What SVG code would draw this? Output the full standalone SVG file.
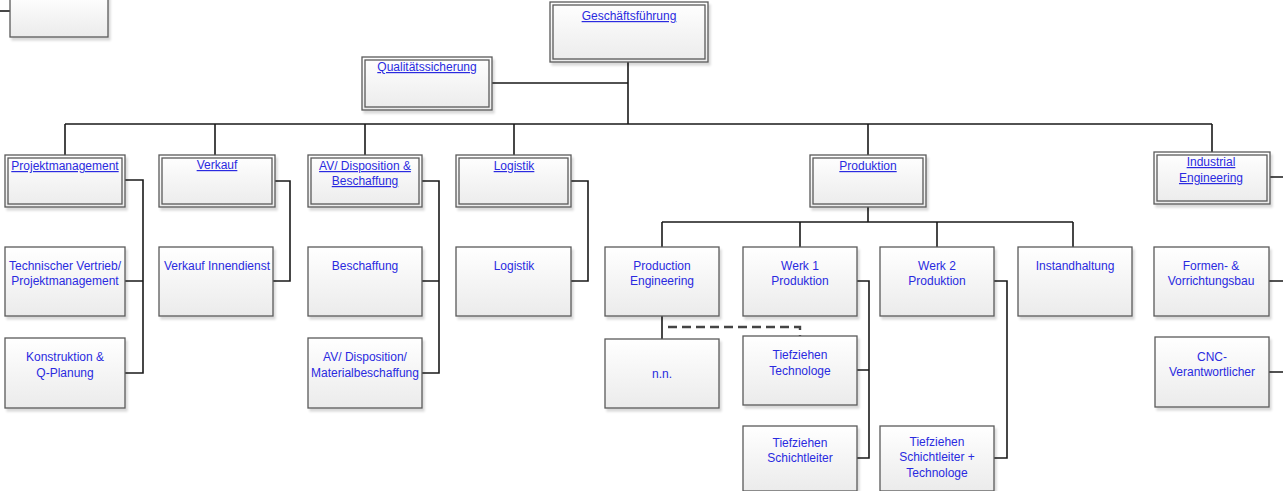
<svg xmlns="http://www.w3.org/2000/svg" width="1283" height="491" viewBox="0 0 1283 491">
<defs>
<linearGradient id="g" x1="0" y1="0" x2="0" y2="1">
<stop offset="0" stop-color="#ffffff"/>
<stop offset="1" stop-color="#ebebeb"/>
</linearGradient>
<filter id="sh" x="-10%" y="-10%" width="130%" height="130%">
<feDropShadow dx="2" dy="3" stdDeviation="1.2" flood-color="#000" flood-opacity="0.15"/>
</filter>
</defs>
<style>
.b{fill:url(#g);stroke:#5a5a5a;stroke-width:1.3;filter:url(#sh)}
.i{fill:none;stroke:#5a5a5a;stroke-width:1.3}
.t{font-family:"Liberation Sans",Arial,sans-serif;font-size:12px;fill:#2a2ae0;text-anchor:middle}
.u{text-decoration:underline}
.c{fill:none;stroke:#1a1a1a;stroke-width:1.6}
.d{fill:none;stroke:#444;stroke-width:2.4;stroke-dasharray:9,5}
</style>
<g id="connectors">
<path class="c" d="M0 11H10"/>
<path class="c" d="M628 62V124M492 83H628"/>
<path class="c" d="M65 124H1212M65 124V155M215 124V155M365 124V155M514 124V155M868 124V155M1212 124V152"/>
<path class="c" d="M125 180H143V373H125M143 281H125"/>
<path class="c" d="M275 181H290V281H273"/>
<path class="c" d="M422 181H439V373H422M439 281H422"/>
<path class="c" d="M571 181H588V281H571"/>
<path class="c" d="M868 207V222M662 222H1073M662 222V247M800 222V247M937 222V247M1073 222V247"/>
<path class="c" d="M662 316V339"/>
<path class="d" d="M668 327H800V336"/>
<path class="c" d="M857 281H869V458H857M869 370H857"/>
<path class="c" d="M994 281H1007V458H994"/>
<path class="c" d="M1270 177H1283M1269 281H1283M1269 372H1283"/>
</g>
<g id="n-topleft"><rect class="b" x="10" y="-5" width="98" height="42"/></g>
<g id="n-gf"><rect class="b" x="550" y="2" width="158" height="60"/><rect class="i" x="553" y="5" width="152" height="54"/><text class="t u" x="629" y="20">Geschäftsführung</text></g>
<g id="n-qs"><rect class="b" x="362" y="57" width="130" height="53"/><rect class="i" x="365" y="60" width="124" height="47"/><text class="t u" x="427" y="71">Qualitätssicherung</text></g>
<g id="n-pm"><rect class="b" x="5" y="155" width="120" height="52"/><rect class="i" x="8" y="158" width="114" height="46"/><text class="t u" x="65" y="170">Projektmanagement</text></g>
<g id="n-vk"><rect class="b" x="159" y="155" width="116" height="52"/><rect class="i" x="162" y="158" width="110" height="46"/><text class="t u" x="217" y="169">Verkauf</text></g>
<g id="n-av"><rect class="b" x="308" y="155" width="114" height="52"/><rect class="i" x="311" y="158" width="108" height="46"/><text class="t u" x="365" y="170">AV/ Disposition &amp;</text><text class="t u" x="365" y="185">Beschaffung</text></g>
<g id="n-lo"><rect class="b" x="456" y="155" width="115" height="52"/><rect class="i" x="459" y="158" width="109" height="46"/><text class="t u" x="514" y="170">Logistik</text></g>
<g id="n-pr"><rect class="b" x="810" y="155" width="116" height="52"/><rect class="i" x="813" y="158" width="110" height="46"/><text class="t u" x="868" y="170">Produktion</text></g>
<g id="n-ie"><rect class="b" x="1154" y="152" width="116" height="52"/><rect class="i" x="1157" y="155" width="110" height="46"/><text class="t u" x="1211" y="166">Industrial</text><text class="t u" x="1211" y="182">Engineering</text></g>
<g id="n-tv"><rect class="b" x="5" y="247" width="120" height="69"/><text class="t" x="65" y="270">Technischer Vertrieb/</text><text class="t" x="65" y="285">Projektmanagement</text></g>
<g id="n-kq"><rect class="b" x="5" y="338" width="120" height="70"/><text class="t" x="65" y="361">Konstruktion &amp;</text><text class="t" x="65" y="377">Q-Planung</text></g>
<g id="n-vi"><rect class="b" x="159" y="247" width="114" height="69"/><text class="t" x="217" y="270">Verkauf Innendienst</text></g>
<g id="n-be"><rect class="b" x="308" y="247" width="114" height="69"/><text class="t" x="365" y="270">Beschaffung</text></g>
<g id="n-am"><rect class="b" x="308" y="338" width="114" height="70"/><text class="t" x="365" y="361">AV/ Disposition/</text><text class="t" x="365" y="377">Materialbeschaffung</text></g>
<g id="n-lg"><rect class="b" x="456" y="247" width="115" height="69"/><text class="t" x="514" y="270">Logistik</text></g>
<g id="n-pe"><rect class="b" x="605" y="247" width="114" height="69"/><text class="t" x="662" y="270">Production</text><text class="t" x="662" y="285">Engineering</text></g>
<g id="n-w1"><rect class="b" x="743" y="247" width="114" height="69"/><text class="t" x="800" y="270">Werk 1</text><text class="t" x="800" y="285">Produktion</text></g>
<g id="n-w2"><rect class="b" x="880" y="247" width="114" height="69"/><text class="t" x="937" y="270">Werk 2</text><text class="t" x="937" y="285">Produktion</text></g>
<g id="n-ih"><rect class="b" x="1018" y="247" width="114" height="69"/><text class="t" x="1075" y="270">Instandhaltung</text></g>
<g id="n-fv"><rect class="b" x="1154" y="247" width="115" height="69"/><text class="t" x="1211" y="270">Formen- &amp;</text><text class="t" x="1211" y="285">Vorrichtungsbau</text></g>
<g id="n-nn"><rect class="b" x="605" y="339" width="114" height="69"/><text class="t" x="662" y="378">n.n.</text></g>
<g id="n-tt"><rect class="b" x="743" y="336" width="114" height="69"/><text class="t" x="800" y="359">Tiefziehen</text><text class="t" x="800" y="375">Technologe</text></g>
<g id="n-ts"><rect class="b" x="743" y="426" width="114" height="65"/><text class="t" x="800" y="447">Tiefziehen</text><text class="t" x="800" y="462">Schichtleiter</text></g>
<g id="n-tst"><rect class="b" x="880" y="426" width="114" height="65"/><text class="t" x="937" y="446">Tiefziehen</text><text class="t" x="937" y="461">Schichtleiter +</text><text class="t" x="937" y="477">Technologe</text></g>
<g id="n-cnc"><rect class="b" x="1155" y="337" width="114" height="70"/><text class="t" x="1212" y="361">CNC-</text><text class="t" x="1212" y="376">Verantwortlicher</text></g>
</svg>
